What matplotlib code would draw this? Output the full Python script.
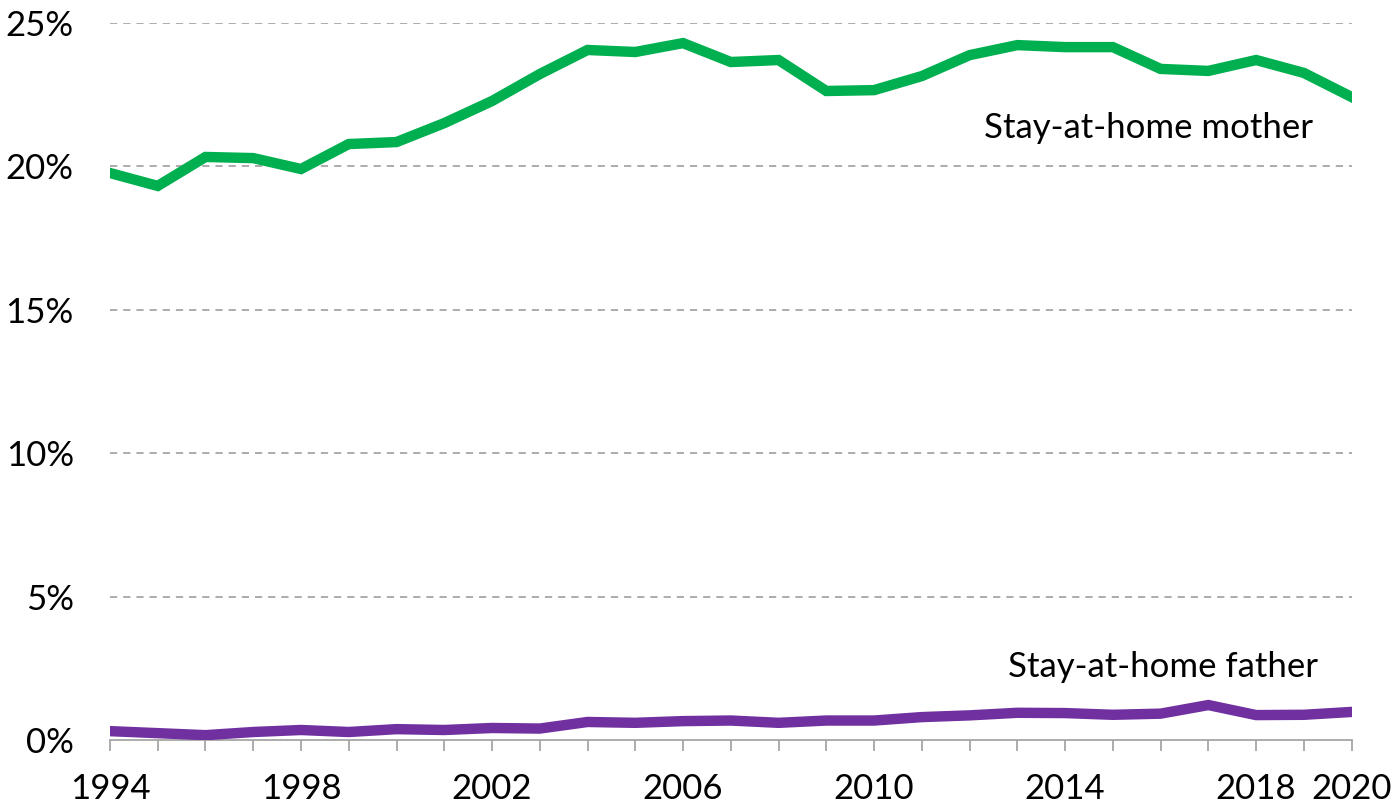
import matplotlib.pyplot as plt

years = list(range(1994, 2021))
mother = [19.77, 19.32, 20.33, 20.29, 19.91, 20.78, 20.85, 21.51, 22.28, 23.22,
          24.06, 23.99, 24.30, 23.64, 23.71, 22.63, 22.66, 23.15, 23.88, 24.23,
          24.16, 24.16, 23.40, 23.33, 23.71, 23.26, 22.42]
father = [0.31, 0.24, 0.17, 0.28, 0.35, 0.28, 0.38, 0.35, 0.42, 0.40,
          0.63, 0.60, 0.66, 0.68, 0.60, 0.68, 0.68, 0.80, 0.86, 0.95,
          0.94, 0.88, 0.92, 1.22, 0.87, 0.88, 0.98]
xlabels = [1994, 1998, 2002, 2006, 2010, 2014, 2018, 2020]
ylabels = [0, 5, 10, 15, 20, 25]

plt.rcParams['font.family'] = ['Lato', 'DejaVu Sans']

fig = plt.figure(figsize=(13.92, 8.05), dpi=100)
ax = fig.add_axes([0.079, 0.0807, 0.892, 0.8907])

for y in ylabels[1:]:
    ax.axhline(y, color='#a6a6a6', lw=1.3, ls=(0, (4, 3.3)), zorder=1)

ax.plot(years, mother, color='#00B050', lw=7.5, solid_joinstyle='miter', zorder=3)
ax.plot(years, father, color='#7030A0', lw=7.5, solid_joinstyle='miter', zorder=3)

ax.set_xlim(1994, 2020)
ax.set_ylim(0, 25)

ax.set_yticks(ylabels)
ax.set_yticklabels([f"{v}%" for v in ylabels])
ax.set_xticks(years, minor=True)
ax.set_xticks(xlabels)
ax.set_xticklabels([str(v) for v in xlabels])

ax.tick_params(axis='y', length=0, pad=26, labelsize=25)
ax.tick_params(axis='x', which='both', direction='out', length=8, width=1.3,
               color='#a6a6a6', labelsize=25, pad=16)

for s in ['top', 'right', 'left']:
    ax.spines[s].set_visible(False)
ax.spines['bottom'].set_color('#a6a6a6')
ax.spines['bottom'].set_linewidth(1.3)
ax.spines['bottom'].set_zorder(2)

ax.text(2015.75, 21.35, "Stay-at-home mother", fontsize=25, ha='center', va='center')
ax.text(2016.05, 2.55, "Stay-at-home father", fontsize=25, ha='center', va='center')

fig.savefig("out.png", dpi=100)
